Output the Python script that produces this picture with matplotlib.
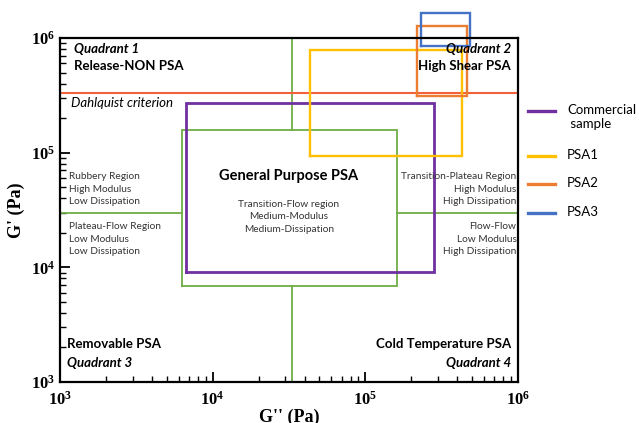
import matplotlib
matplotlib.use("Agg")
import matplotlib.pyplot as plt
from matplotlib.lines import Line2D

# rectangles: (G'' min, G'' max, G' min, G' max) in Pa
general_box = (6.3e3, 1.61e5, 6.9e3, 1.58e5)
commercial_box = (6.7e3, 2.81e5, 9.1e3, 2.71e5)
psa1_box = (4.34e4, 4.3e5, 9.35e4, 7.86e5)
psa2_box = (2.18e5, 4.62e5, 3.12e5, 1.27e6)
psa3_box = (2.31e5, 4.84e5, 8.5e5, 1.65e6)
cross_x = 3.3e4
cross_y = 3.0e4
dahlquist = 3.3e5

series_names = ["Commercial\n sample", "PSA1", "PSA2", "PSA3"]
series_boxes = [commercial_box, psa1_box, psa2_box, psa3_box]
series_colors = ["#7030A0", "#FFC000", "#ED7D31", "#4472C4"]
series_widths = [2.0, 1.7, 1.7, 1.7]

plt.rcParams['mathtext.fontset'] = 'custom'
plt.rcParams['mathtext.rm'] = 'Liberation Serif:bold'
plt.rcParams['mathtext.it'] = 'Liberation Serif:bold'
plt.rcParams['mathtext.bf'] = 'Liberation Serif:bold'
txt_font = 'Lato'


def draw_box(ax, box, color, lw):
    x0, x1, y0, y1 = box
    ax.plot([x0, x1, x1, x0, x0], [y0, y0, y1, y1, y0], color=color, lw=lw,
            clip_on=False, solid_joinstyle='miter')


fig = plt.figure(figsize=(6.39, 4.23), dpi=100)
ax = fig.add_axes([0.0939, 0.0969, 0.7167, 0.8133])
ax.set_xscale('log')
ax.set_yscale('log')
ax.set_xlim(1e3, 1e6)
ax.set_ylim(1e3, 1e6)

green = "#70AD47"
gx0, gx1, gy0, gy1 = general_box
ax.plot([cross_x, cross_x], [1e3, gy0], color=green, lw=1.3)
ax.plot([cross_x, cross_x], [gy1, 1e6], color=green, lw=1.3)
ax.plot([1e3, gx0], [cross_y, cross_y], color=green, lw=1.3)
ax.plot([gx1, 1e6], [cross_y, cross_y], color=green, lw=1.3)
draw_box(ax, general_box, green, 1.3)

ax.axhline(dahlquist, color="#F4603A", lw=1.5)

for box, c, lw in zip(series_boxes, series_colors, series_widths):
    draw_box(ax, box, c, lw)

for s in ax.spines.values():
    s.set_linewidth(1.6)
ax.tick_params(which='both', direction='in', top=False, right=False)
ax.tick_params(which='major', length=7, width=1.3)
ax.tick_params(which='minor', length=4, width=1.0)
ax.set_xticks([1e3, 1e4, 1e5, 1e6])
ax.set_xticklabels([r'$10^{3}$', r'$10^{4}$', r'$10^{5}$', r'$10^{6}$'], fontsize=12)
ax.set_yticks([1e3, 1e4, 1e5, 1e6])
ax.set_yticklabels([r'$10^{3}$', r'$10^{4}$', r'$10^{5}$', r'$10^{6}$'], fontsize=12)
ax.tick_params(axis='x', pad=6)
ax.set_xlabel("G'' (Pa)", family='Liberation Serif', fontweight='bold', fontsize=13, labelpad=0)
ax.set_ylabel("G' (Pa)", family='Liberation Serif', fontweight='bold', fontsize=13, labelpad=4)

T = ax.transAxes
big = 9.5
small = 7.3
grey = '#333333'
ax.text(0.03, 0.985, "Quadrant 1", transform=T, family=txt_font, fontsize=big,
        fontweight='bold', style='italic', va='top')
ax.text(0.03, 0.935, "Release-NON PSA", transform=T, family=txt_font, fontsize=big,
        fontweight='bold', va='top')
ax.text(0.985, 0.985, "Quadrant 2", transform=T, family=txt_font, fontsize=big,
        fontweight='bold', style='italic', va='top', ha='right')
ax.text(0.985, 0.935, "High Shear PSA", transform=T, family=txt_font, fontsize=big,
        fontweight='bold', va='top', ha='right')
ax.text(0.025, 0.811, "Dahlquist criterion", transform=T, family=txt_font,
        fontsize=big, style='italic', va='center')
ax.text(0.02, 0.61, "Rubbery Region\nHigh Modulus\nLow Dissipation", transform=T,
        family=txt_font, fontsize=small, va='top', color=grey, linespacing=1.5)
ax.text(0.02, 0.465, "Plateau-Flow Region\nLow Modulus\nLow Dissipation", transform=T,
        family=txt_font, fontsize=small, va='top', color=grey, linespacing=1.5)
ax.text(0.50, 0.60, "General Purpose PSA", transform=T, family=txt_font, fontsize=10.5,
        fontweight='bold', ha='center', va='center')
ax.text(0.50, 0.53, "Transition-Flow region\nMedium-Modulus\nMedium-Dissipation",
        transform=T, family=txt_font, fontsize=small, ha='center', va='top',
        color=grey, linespacing=1.5)
ax.text(0.997, 0.61, "Transition-Plateau Region\nHigh Modulus\nHigh Dissipation",
        transform=T, family=txt_font, fontsize=small, ha='right', va='top',
        color=grey, linespacing=1.5, multialignment='right')
ax.text(0.997, 0.465, "Flow-Flow\nLow Modulus\nHigh Dissipation", transform=T,
        family=txt_font, fontsize=small, ha='right', va='top', color=grey,
        linespacing=1.5, multialignment='right')
ax.text(0.015, 0.11, "Removable PSA", transform=T, family=txt_font, fontsize=big,
        fontweight='bold', va='center')
ax.text(0.015, 0.055, "Quadrant 3", transform=T, family=txt_font, fontsize=big,
        fontweight='bold', style='italic', va='center')
ax.text(0.985, 0.11, "Cold Temperature PSA", transform=T, family=txt_font, fontsize=big,
        fontweight='bold', va='center', ha='right')
ax.text(0.985, 0.055, "Quadrant 4", transform=T, family=txt_font, fontsize=big,
        fontweight='bold', style='italic', va='center', ha='right')

# legend drawn by hand so the first line of a two-line label sits level with its key
W, H = 639.0, 423.0
key_rows = [111, 156, 184, 213]
for name, c, row in zip(series_names, series_colors, key_rows):
    yf = 1 - row / H
    fig.add_artist(Line2D([528 / W, 555 / W], [yf, yf], color=c, lw=2.4))
    fig.text(567 / W, yf, name, family=txt_font, fontsize=9.5, va='top',
             ha='left', linespacing=1.25,
             transform=fig.transFigure).set_y(yf + 7 / H)

fig.savefig("out.png", dpi=100)
